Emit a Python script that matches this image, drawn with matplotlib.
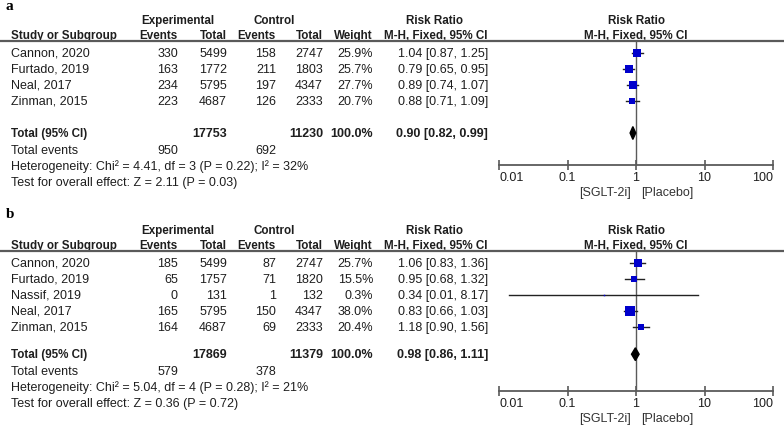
import numpy as np
import matplotlib.pyplot as plt
from matplotlib.lines import Line2D
from matplotlib.transforms import blended_transform_factory

plt.rcParams['font.family'] = ['Liberation Sans', 'DejaVu Sans']

# Panel a data
a_names = ['Cannon, 2020', 'Furtado, 2019', 'Neal, 2017', 'Zinman, 2015']
a_exp_events = [330, 163, 234, 223]
a_exp_total = [5499, 1772, 5795, 4687]
a_ctl_events = [158, 211, 197, 126]
a_ctl_total = [2747, 1803, 4347, 2333]
a_weight = [25.9, 25.7, 27.7, 20.7]
a_rr = [1.04, 0.79, 0.89, 0.88]
a_lo = [0.87, 0.65, 0.74, 0.71]
a_hi = [1.25, 0.95, 1.07, 1.09]
a_pooled = [0.90, 0.82, 0.99]
a_het = 'Heterogeneity: Chi² = 4.41, df = 3 (P = 0.22); I² = 32%'
a_test = 'Test for overall effect: Z = 2.11 (P = 0.03)'

# Panel b data
b_names = ['Cannon, 2020', 'Furtado, 2019', 'Nassif, 2019', 'Neal, 2017', 'Zinman, 2015']
b_exp_events = [185, 65, 0, 165, 164]
b_exp_total = [5499, 1757, 131, 5795, 4687]
b_ctl_events = [87, 71, 1, 150, 69]
b_ctl_total = [2747, 1820, 132, 4347, 2333]
b_weight = [25.7, 15.5, 0.3, 38.0, 20.4]
b_rr = [1.06, 0.95, 0.34, 0.83, 1.18]
b_lo = [0.83, 0.68, 0.014, 0.66, 0.90]
b_hi = [1.36, 1.32, 8.17, 1.03, 1.56]
b_pooled = [0.98, 0.86, 1.11]
b_het = 'Heterogeneity: Chi² = 5.04, df = 4 (P = 0.28); I² = 21%'
b_test = 'Test for overall effect: Z = 0.36 (P = 0.72)'

ticks = [0.01, 0.1, 1, 10, 100]
tick_labels = ['0.01', '0.1', '1', '10', '100']

W, H = 784, 427
ROW = 16
TXT = '#1e1e1e'
LINE = '#5a5a5a'
BLUE = '#0000cc'
FS = 9
BFS = 8.4

fig = plt.figure(figsize=(W / 100, H / 100), dpi=100)
bg = fig.add_axes([0, 0, 1, 1])
bg.set_xlim(0, W)
bg.set_ylim(H, 0)
bg.axis('off')


def panel(letter, letter_px, first_px, axis_row, total_gap, names, ee, et, ce, ct, wt,
          rr, lo, hi, pooled, het, test):
    n = len(names)
    top_px = first_px - 0.75 * ROW
    bot_px = first_px + axis_row * ROW
    ax = fig.add_axes([499 / W, 1 - bot_px / H, 274 / W, (bot_px - top_px) / H])
    ax.set_xscale('log')
    ax.set_xlim(0.01, 100)
    ax.set_ylim(axis_row, -0.75)
    ax.patch.set_alpha(0)
    for s in ['top', 'right', 'left']:
        ax.spines[s].set_visible(False)
    ax.spines['bottom'].set_color(LINE)
    ax.spines['bottom'].set_linewidth(1.3)
    ax.set_xticks(ticks)
    ax.set_xticklabels(tick_labels)
    ax.minorticks_off()
    ax.set_yticks([])
    ax.tick_params(axis='x', direction='inout', length=7, width=1.2, color=LINE,
                   labelsize=FS, labelcolor=TXT, pad=1)
    labs = ax.get_xticklabels()
    labs[0].set_ha('left')
    labs[-1].set_ha('right')
    ax.axvline(1, color=LINE, lw=1, zorder=1)

    # studies
    for i in range(n):
        ax.plot([lo[i], hi[i]], [i, i], color='#222222', lw=1, zorder=2)
        side = max(1.5 * np.sqrt(wt[i]), 1.5)
        ax.plot(rr[i], i, marker='s', ms=side * 0.72, color=BLUE, mec=BLUE, mew=0, zorder=3)
    # pooled diamond
    t = n - 1 + total_gap
    ax.fill([pooled[1], pooled[0], pooled[2], pooled[0]], [t, t - 0.4, t, t + 0.4],
            color='black', zorder=3)

    # header line across the whole figure
    fig.add_artist(Line2D([0, 1], [1 - top_px / H] * 2, color=LINE, lw=1.6))

    tx = blended_transform_factory(bg.transData, ax.transData)
    kw = dict(transform=tx, va='center', fontsize=FS, color=TXT)
    bkw = dict(kw, fontweight='bold', fontsize=BFS)
    r1, r2 = -2.06, -1.125
    ax.text(178, r1, 'Experimental', ha='center', **bkw)
    ax.text(274, r1, 'Control', ha='center', **bkw)
    ax.text(435, r1, 'Risk Ratio', ha='center', **bkw)
    ax.text(11, r2, 'Study or Subgroup', ha='left', **bkw)
    ax.text(178, r2, 'Events', ha='right', **bkw)
    ax.text(227, r2, 'Total', ha='right', **bkw)
    ax.text(276, r2, 'Events', ha='right', **bkw)
    ax.text(323, r2, 'Total', ha='right', **bkw)
    ax.text(373, r2, 'Weight', ha='right', **bkw)
    ax.text(488, r2, 'M-H, Fixed, 95% CI', ha='right', **bkw)
    ax.text(1, r1, 'Risk Ratio', ha='center', va='center', fontsize=BFS, color=TXT,
            fontweight='bold', transform=ax.transData, clip_on=False)
    ax.text(1, r2, 'M-H, Fixed, 95% CI', ha='center', va='center', fontsize=BFS, color=TXT,
            fontweight='bold', transform=ax.transData, clip_on=False)

    for i in range(n):
        ax.text(11, i, names[i], ha='left', **kw)
        ax.text(178, i, str(ee[i]), ha='right', **kw)
        ax.text(227, i, str(et[i]), ha='right', **kw)
        ax.text(276, i, str(ce[i]), ha='right', **kw)
        ax.text(323, i, str(ct[i]), ha='right', **kw)
        ax.text(373, i, f'{wt[i]:.1f}%', ha='right', **kw)
        ax.text(488, i, f'{rr[i]:.2f} [{lo[i]:.2f}, {hi[i]:.2f}]', ha='right', **kw)

    bkw_t = dict(bkw, fontsize=FS)
    ax.text(11, t, 'Total (95% CI)', ha='left', **bkw)
    ax.text(227, t, str(sum(et)), ha='right', **bkw_t)
    ax.text(323, t, str(sum(ct)), ha='right', **bkw_t)
    ax.text(373, t, '100.0%', ha='right', **bkw_t)
    ax.text(488, t, f'{pooled[0]:.2f} [{pooled[1]:.2f}, {pooled[2]:.2f}]', ha='right', **bkw_t)
    ax.text(11, t + 1.05, 'Total events', ha='left', **kw)
    ax.text(178, t + 1.05, str(sum(ee)), ha='right', **kw)
    ax.text(276, t + 1.05, str(sum(ce)), ha='right', **kw)
    ax.text(11, t + 2.05, het, ha='left', **kw)
    ax.text(11, t + 3.05, test, ha='left', **kw)

    # favours labels
    ax.annotate('[SGLT-2i]', xy=(1, 0), xycoords=('data', 'axes fraction'),
                xytext=(-4, -19.5), textcoords='offset points', ha='right', va='center',
                fontsize=FS, color='#333333')
    ax.annotate('[Placebo]', xy=(1, 0), xycoords=('data', 'axes fraction'),
                xytext=(4, -19.5), textcoords='offset points', ha='left', va='center',
                fontsize=FS, color='#333333')

    bg.text(6, letter_px, letter, ha='left', va='center',
            fontsize=11, fontweight='bold', family='Liberation Serif', color='black')


panel('a', 7, 54, 7.0, 2.0, a_names, a_exp_events, a_exp_total, a_ctl_events, a_ctl_total,
      a_weight, a_rr, a_lo, a_hi, a_pooled, a_het, a_test)
panel('b', 215, 264, 8.0, 1.7, b_names, b_exp_events, b_exp_total, b_ctl_events, b_ctl_total,
      b_weight, b_rr, b_lo, b_hi, b_pooled, b_het, b_test)

fig.savefig('out.png', dpi=100)
